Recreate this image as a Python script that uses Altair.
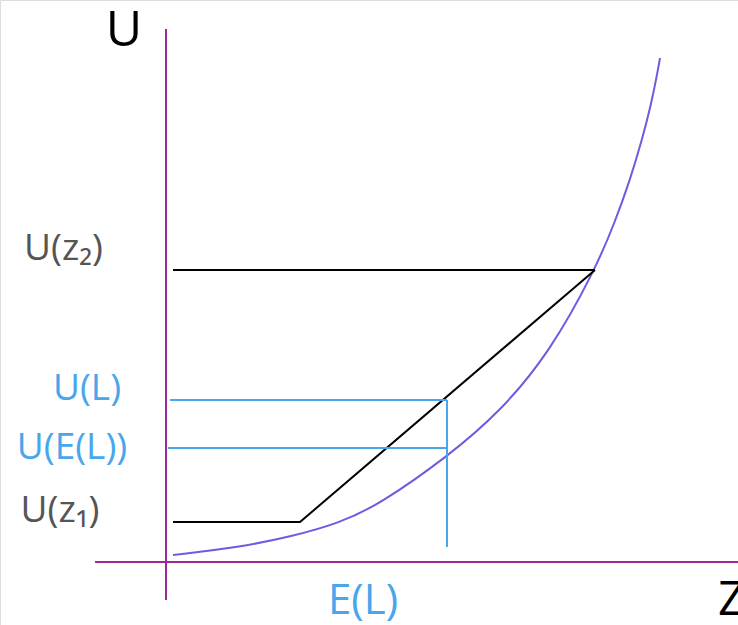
import altair as alt
import pandas as pd

# Convex utility curve U(z)
curve_z = [0.14, 1.48, 2.48, 3.48, 4.28, 5.62, 6.68, 7.68, 8.58, 8.98, 9.28, 9.52, 9.70, 9.82, 9.88]
curve_u = [0.14, 0.30, 0.50, 0.78, 1.16, 2.10, 3.00, 4.20, 5.84, 6.80, 7.64, 8.44, 9.14, 9.74, 10.08]

# Key levels
z1, z2, e_l = 2.68, 8.58, 5.62
u_z1, u_z2, u_l, u_el = 0.80, 5.84, 3.24, 2.28

# Plot extents
x_dom = [-3.32, 11.44]
y_dom = [-1.26, 11.24]

W, H = 738, 625
FONT = "Open Sans"

xs = alt.Scale(domain=x_dom, nice=False, zero=False)
ys = alt.Scale(domain=y_dom, nice=False, zero=False)
X = alt.X("z:Q", scale=xs, axis=None)
Y = alt.Y("u:Q", scale=ys, axis=None)

# Coordinate axes
axes_df = pd.DataFrame({
    "g": ["v", "v", "h", "h"],
    "z": [0, 0, -1.42, 11.44],
    "u": [-0.76, 10.66, 0, 0],
})

curve_df = pd.DataFrame({"z": curve_z, "u": curve_u, "i": range(len(curve_z))})

# U(z2) level and the lottery chord
black_df = pd.DataFrame({
    "g": ["top", "top", "chord", "chord", "chord"],
    "z": [0.14, z2, 0.14, z1, z2],
    "u": [u_z2, u_z2, u_z1, u_z1, u_z2],
    "i": [0, 1, 0, 1, 2],
})

# U(L), U(E(L)) levels and the E(L) drop line
blue_df = pd.DataFrame({
    "g": ["ul", "ul", "uel", "uel", "vert", "vert"],
    "z": [0.08, e_l, 0.04, e_l, e_l, e_l],
    "u": [u_l, u_l, u_el, u_el, 0.30, u_l],
    "i": [0, 1, 0, 1, 0, 1],
})

axes = alt.Chart(axes_df).mark_line(color="#9a2a9a", strokeWidth=2).encode(x=X, y=Y, detail="g:N")
curve = alt.Chart(curve_df).mark_line(color="#6b5ce0", strokeWidth=2, interpolate="basis").encode(
    x=X, y=Y, order="i:Q"
)
black = alt.Chart(black_df).mark_line(color="#000000", strokeWidth=2).encode(
    x=X, y=Y, detail="g:N", order="i:Q"
)
blue = alt.Chart(blue_df).mark_line(color="#4aa6ea", strokeWidth=2).encode(
    x=X, y=Y, detail="g:N", order="i:Q"
)

# Level labels
label_text = ["U(z₂)", "U(L)", "U(E(L))", "U(z₁)"]
label_z = [-2.05, -1.58, -1.88, -2.12]
label_u = [6.04, 3.24, 2.06, 0.80]
label_col = ["#555555", "#4aa6ea", "#4aa6ea", "#555555"]

labels_df = pd.DataFrame({"t": label_text, "z": label_z, "u": label_u, "c": label_col})
labels = alt.Chart(labels_df).mark_text(
    font=FONT, fontSize=37, align="center", baseline="alphabetic"
).encode(x=X, y=Y, text="t:N", color=alt.Color("c:N", scale=None))

el_df = pd.DataFrame({"t": ["E(L)"], "z": [3.94], "u": [-1.04]})
el_label = alt.Chart(el_df).mark_text(
    font=FONT, fontSize=42, align="center", baseline="alphabetic", color="#4aa6ea"
).encode(x=X, y=Y, text="t:N")

# Axis names
u_df = pd.DataFrame({"t": ["U"], "z": [-0.84], "u": [10.32]})
z_df = pd.DataFrame({"t": ["Z"], "z": [11.04], "u": [-1.06]})
name_u = alt.Chart(u_df).mark_text(
    font=FONT, fontSize=50, align="center", baseline="alphabetic", color="#000000"
).encode(x=X, y=Y, text="t:N")
name_z = alt.Chart(z_df).mark_text(
    font=FONT, fontSize=48, align="left", baseline="alphabetic", color="#000000"
).encode(x=X, y=Y, text="t:N")

chart = alt.layer(axes, curve, black, blue, labels, el_label, name_u, name_z).properties(
    width=W, height=H, autosize=alt.AutoSizeParams(type="none"), padding=0
).configure_view(stroke=None).configure(background="white")

chart.save("out.html", embed_options={"renderer": "svg", "actions": False})
